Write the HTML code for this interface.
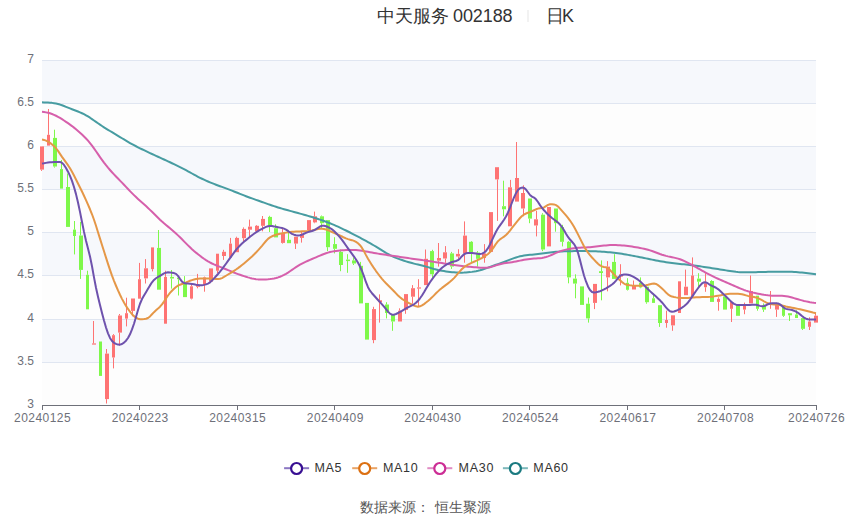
<!DOCTYPE html><html><head><meta charset="utf-8"><style>
html,body{margin:0;padding:0;background:#fff;width:850px;height:517px;overflow:hidden}
svg{display:block;font-family:"Liberation Sans",sans-serif}
</style></head><body>
<svg width="850" height="517" viewBox="0 0 850 517">
<rect width="850" height="517" fill="#fff"/>
<rect x="42" y="61" width="774" height="42" fill="#f6f8fc"/>
<rect x="42" y="104" width="774" height="42" fill="#fdfdfd"/>
<rect x="42" y="147" width="774" height="42" fill="#f6f8fc"/>
<rect x="42" y="190" width="774" height="42" fill="#fdfdfd"/>
<rect x="42" y="233" width="774" height="42" fill="#f6f8fc"/>
<rect x="42" y="276" width="774" height="43" fill="#fdfdfd"/>
<rect x="42" y="320" width="774" height="42" fill="#f6f8fc"/>
<rect x="42" y="363" width="774" height="42" fill="#fdfdfd"/>
<rect x="42" y="60" width="774" height="1" fill="#e0e6f1"/>
<rect x="42" y="103" width="774" height="1" fill="#e0e6f1"/>
<rect x="42" y="146" width="774" height="1" fill="#e0e6f1"/>
<rect x="42" y="189" width="774" height="1" fill="#e0e6f1"/>
<rect x="42" y="232" width="774" height="1" fill="#e0e6f1"/>
<rect x="42" y="275" width="774" height="1" fill="#e0e6f1"/>
<rect x="42" y="319" width="774" height="1" fill="#e0e6f1"/>
<rect x="42" y="362" width="774" height="1" fill="#e0e6f1"/>
<g fill="#6e7079" font-size="12" text-anchor="end">
<text x="34" y="62.8">7</text>
<text x="34" y="105.8">6.5</text>
<text x="34" y="148.8">6</text>
<text x="34" y="191.8">5.5</text>
<text x="34" y="234.8">5</text>
<text x="34" y="277.8">4.5</text>
<text x="34" y="321.8">4</text>
<text x="34" y="364.8">3.5</text>
<text x="34" y="407.8">3</text>
</g>
<rect x="42" y="405" width="775" height="1" fill="#6e7079"/>
<g fill="#6e7079" font-size="12" text-anchor="middle">
<rect x="42" y="405" width="1" height="5" fill="#6e7079"/>
<text x="42.6" y="421.8" letter-spacing="0.45">20240125</text>
<rect x="139" y="405" width="1" height="5" fill="#6e7079"/>
<text x="140.16" y="421.8" letter-spacing="0.45">20240223</text>
<rect x="237" y="405" width="1" height="5" fill="#6e7079"/>
<text x="237.73" y="421.8" letter-spacing="0.45">20240315</text>
<rect x="334" y="405" width="1" height="5" fill="#6e7079"/>
<text x="335.29" y="421.8" letter-spacing="0.45">20240409</text>
<rect x="432" y="405" width="1" height="5" fill="#6e7079"/>
<text x="432.85" y="421.8" letter-spacing="0.45">20240430</text>
<rect x="529" y="405" width="1" height="5" fill="#6e7079"/>
<text x="530.42" y="421.8" letter-spacing="0.45">20240524</text>
<rect x="627" y="405" width="1" height="5" fill="#6e7079"/>
<text x="627.98" y="421.8" letter-spacing="0.45">20240617</text>
<rect x="724" y="405" width="1" height="5" fill="#6e7079"/>
<text x="725.54" y="421.8" letter-spacing="0.45">20240708</text>
<rect x="816" y="405" width="1" height="5" fill="#6e7079"/>
<text x="816.6" y="421.8" letter-spacing="0.45">20240726</text>
</g>
<g>
<rect x="41" y="169.6" width="1" height="1.3" fill="#fe7373"/>
<rect x="40" y="146.4" width="4" height="23.2" fill="#fe7373"/>
<rect x="48" y="109" width="1" height="25.8" fill="#fe7373"/>
<rect x="47" y="134.8" width="3" height="10.8" fill="#fe7373"/>
<rect x="54" y="129.7" width="1" height="8.2" fill="#7ef84a"/>
<rect x="54" y="166.5" width="1" height="1.1" fill="#7ef84a"/>
<rect x="53" y="137.9" width="4" height="28.6" fill="#7ef84a"/>
<rect x="61" y="160" width="1" height="9.1" fill="#7ef84a"/>
<rect x="60" y="169.1" width="3" height="19.5" fill="#7ef84a"/>
<rect x="67" y="173.5" width="1" height="13.5" fill="#7ef84a"/>
<rect x="66" y="187" width="4" height="39.9" fill="#7ef84a"/>
<rect x="74" y="221" width="1" height="8.6" fill="#7ef84a"/>
<rect x="74" y="236" width="1" height="18.4" fill="#7ef84a"/>
<rect x="73" y="229.6" width="3" height="6.4" fill="#7ef84a"/>
<rect x="80" y="221.9" width="1" height="13.6" fill="#7ef84a"/>
<rect x="80" y="269.9" width="1" height="9" fill="#7ef84a"/>
<rect x="79" y="235.5" width="4" height="34.4" fill="#7ef84a"/>
<rect x="87" y="270.7" width="1" height="4.1" fill="#7ef84a"/>
<rect x="86" y="274.8" width="3" height="34.5" fill="#7ef84a"/>
<rect x="93" y="321" width="1" height="22.4" fill="#fe7373"/>
<rect x="92" y="343.4" width="4" height="1.2" fill="#fe7373"/>
<rect x="99" y="341.5" width="3" height="34.4" fill="#7ef84a"/>
<rect x="106" y="349" width="1" height="4.6" fill="#fe7373"/>
<rect x="106" y="399.1" width="1" height="4.4" fill="#fe7373"/>
<rect x="105" y="353.6" width="4" height="45.5" fill="#fe7373"/>
<rect x="113" y="334.1" width="1" height="1.1" fill="#fe7373"/>
<rect x="113" y="357.5" width="1" height="10.9" fill="#fe7373"/>
<rect x="112" y="335.2" width="3" height="22.3" fill="#fe7373"/>
<rect x="119" y="314" width="1" height="1.5" fill="#fe7373"/>
<rect x="119" y="332.6" width="1" height="13.1" fill="#fe7373"/>
<rect x="118" y="315.5" width="4" height="17.1" fill="#fe7373"/>
<rect x="126" y="297.7" width="1" height="15.5" fill="#fe7373"/>
<rect x="126" y="318.6" width="1" height="7.8" fill="#fe7373"/>
<rect x="125" y="313.2" width="3" height="5.4" fill="#fe7373"/>
<rect x="132" y="310.9" width="1" height="5.4" fill="#fe7373"/>
<rect x="131" y="298.5" width="4" height="12.4" fill="#fe7373"/>
<rect x="139" y="262.9" width="1" height="16.3" fill="#fe7373"/>
<rect x="138" y="279.2" width="3" height="19.5" fill="#fe7373"/>
<rect x="145" y="259.1" width="1" height="9.2" fill="#fe7373"/>
<rect x="145" y="278.4" width="1" height="5.1" fill="#fe7373"/>
<rect x="144" y="268.3" width="4" height="10.1" fill="#fe7373"/>
<rect x="152" y="269.1" width="1" height="2.3" fill="#fe7373"/>
<rect x="151" y="247.4" width="3" height="21.7" fill="#fe7373"/>
<rect x="158" y="230" width="1" height="17.9" fill="#7ef84a"/>
<rect x="157" y="247.9" width="4" height="41.8" fill="#7ef84a"/>
<rect x="165" y="270.7" width="1" height="6.2" fill="#fe7373"/>
<rect x="164" y="276.9" width="3" height="46.8" fill="#fe7373"/>
<rect x="171" y="270" width="1" height="6.9" fill="#7ef84a"/>
<rect x="171" y="278.5" width="1" height="10.1" fill="#7ef84a"/>
<rect x="170" y="276.9" width="4" height="1.6" fill="#7ef84a"/>
<rect x="178" y="276.1" width="1" height="1.6" fill="#7ef84a"/>
<rect x="178" y="279.2" width="1" height="16.3" fill="#7ef84a"/>
<rect x="177" y="277.7" width="3" height="1.5" fill="#7ef84a"/>
<rect x="184" y="276.1" width="1" height="7.8" fill="#7ef84a"/>
<rect x="183" y="283.9" width="4" height="13.2" fill="#7ef84a"/>
<rect x="191" y="283.1" width="1" height="3.2" fill="#fe7373"/>
<rect x="191" y="298.6" width="1" height="0.8" fill="#fe7373"/>
<rect x="190" y="286.3" width="3" height="12.3" fill="#fe7373"/>
<rect x="197" y="273.9" width="1" height="11.1" fill="#fe7373"/>
<rect x="197" y="286.8" width="1" height="1.5" fill="#fe7373"/>
<rect x="196" y="285" width="4" height="1.8" fill="#fe7373"/>
<rect x="204" y="276.6" width="1" height="0.8" fill="#fe7373"/>
<rect x="204" y="285" width="1" height="6.7" fill="#fe7373"/>
<rect x="203" y="277.4" width="3" height="7.6" fill="#fe7373"/>
<rect x="210" y="281.6" width="1" height="1.5" fill="#fe7373"/>
<rect x="209" y="268.4" width="4" height="13.2" fill="#fe7373"/>
<rect x="217" y="270.7" width="1" height="2.3" fill="#fe7373"/>
<rect x="216" y="253.7" width="3" height="17" fill="#fe7373"/>
<rect x="223" y="249.8" width="1" height="2" fill="#fe7373"/>
<rect x="223" y="256" width="1" height="3.9" fill="#fe7373"/>
<rect x="222" y="251.8" width="4" height="4.2" fill="#fe7373"/>
<rect x="230" y="237.9" width="1" height="5.7" fill="#fe7373"/>
<rect x="229" y="243.6" width="3" height="14" fill="#fe7373"/>
<rect x="236" y="236.7" width="1" height="1.2" fill="#fe7373"/>
<rect x="235" y="237.9" width="4" height="14.3" fill="#fe7373"/>
<rect x="243" y="227.4" width="1" height="1.5" fill="#fe7373"/>
<rect x="243" y="238.2" width="1" height="3.9" fill="#fe7373"/>
<rect x="242" y="228.9" width="4" height="9.3" fill="#fe7373"/>
<rect x="249" y="219.6" width="1" height="7" fill="#fe7373"/>
<rect x="249" y="229.7" width="1" height="7" fill="#fe7373"/>
<rect x="248" y="226.6" width="4" height="3.1" fill="#fe7373"/>
<rect x="256" y="225" width="1" height="0.8" fill="#fe7373"/>
<rect x="255" y="225.8" width="4" height="5.5" fill="#fe7373"/>
<rect x="262" y="216" width="1" height="2.9" fill="#fe7373"/>
<rect x="262" y="225.8" width="1" height="5.5" fill="#fe7373"/>
<rect x="261" y="218.9" width="4" height="6.9" fill="#fe7373"/>
<rect x="269" y="215.8" width="1" height="1.1" fill="#7ef84a"/>
<rect x="269" y="225.8" width="1" height="6.2" fill="#7ef84a"/>
<rect x="268" y="216.9" width="4" height="8.9" fill="#7ef84a"/>
<rect x="275" y="224.3" width="1" height="3.9" fill="#7ef84a"/>
<rect x="274" y="228.2" width="4" height="9.2" fill="#7ef84a"/>
<rect x="282" y="229" width="1" height="3.8" fill="#fe7373"/>
<rect x="282" y="242.9" width="1" height="0.7" fill="#fe7373"/>
<rect x="281" y="232.8" width="4" height="10.1" fill="#fe7373"/>
<rect x="288" y="230.5" width="1" height="9.3" fill="#7ef84a"/>
<rect x="287" y="239.8" width="4" height="3.4" fill="#7ef84a"/>
<rect x="295" y="243.6" width="1" height="5.4" fill="#fe7373"/>
<rect x="294" y="236.7" width="4" height="6.9" fill="#fe7373"/>
<rect x="301" y="231" width="1" height="3" fill="#fe7373"/>
<rect x="301" y="237.9" width="1" height="4.7" fill="#fe7373"/>
<rect x="300" y="234" width="4" height="3.9" fill="#fe7373"/>
<rect x="307" y="220.1" width="4" height="10.1" fill="#fe7373"/>
<rect x="314" y="211.6" width="1" height="4.7" fill="#fe7373"/>
<rect x="314" y="222.4" width="1" height="0.8" fill="#fe7373"/>
<rect x="313" y="216.3" width="4" height="6.1" fill="#fe7373"/>
<rect x="321" y="215.5" width="1" height="0.8" fill="#7ef84a"/>
<rect x="321" y="223.2" width="1" height="5.4" fill="#7ef84a"/>
<rect x="320" y="216.3" width="4" height="6.9" fill="#7ef84a"/>
<rect x="327" y="247.2" width="1" height="3.9" fill="#7ef84a"/>
<rect x="326" y="220.1" width="4" height="27.1" fill="#7ef84a"/>
<rect x="334" y="237.2" width="1" height="6.9" fill="#7ef84a"/>
<rect x="334" y="248.8" width="1" height="4.6" fill="#7ef84a"/>
<rect x="333" y="244.1" width="4" height="4.7" fill="#7ef84a"/>
<rect x="340" y="249.5" width="1" height="2.4" fill="#7ef84a"/>
<rect x="340" y="265" width="1" height="6.2" fill="#7ef84a"/>
<rect x="339" y="251.9" width="4" height="13.1" fill="#7ef84a"/>
<rect x="347" y="254.2" width="1" height="5.4" fill="#7ef84a"/>
<rect x="347" y="261.1" width="1" height="11.7" fill="#7ef84a"/>
<rect x="346" y="259.6" width="4" height="1.5" fill="#7ef84a"/>
<rect x="353" y="257.3" width="1" height="3.1" fill="#7ef84a"/>
<rect x="353" y="263.5" width="1" height="1.5" fill="#7ef84a"/>
<rect x="352" y="260.4" width="4" height="3.1" fill="#7ef84a"/>
<rect x="360" y="261.9" width="1" height="3.9" fill="#7ef84a"/>
<rect x="359" y="265.8" width="4" height="37.6" fill="#7ef84a"/>
<rect x="365" y="302.9" width="4" height="36.7" fill="#7ef84a"/>
<rect x="373" y="306.8" width="1" height="2.3" fill="#fe7373"/>
<rect x="373" y="340.1" width="1" height="3.1" fill="#fe7373"/>
<rect x="372" y="309.1" width="4" height="31" fill="#fe7373"/>
<rect x="379" y="294.4" width="1" height="5.9" fill="#fe7373"/>
<rect x="379" y="302.2" width="1" height="20.4" fill="#fe7373"/>
<rect x="378" y="300.3" width="4" height="1.9" fill="#fe7373"/>
<rect x="386" y="302.2" width="1" height="2.3" fill="#7ef84a"/>
<rect x="386" y="313" width="1" height="5.4" fill="#7ef84a"/>
<rect x="385" y="304.5" width="4" height="8.5" fill="#7ef84a"/>
<rect x="392" y="321.5" width="1" height="9.3" fill="#7ef84a"/>
<rect x="391" y="314.5" width="4" height="7" fill="#7ef84a"/>
<rect x="399" y="308.3" width="1" height="2.4" fill="#fe7373"/>
<rect x="398" y="310.7" width="4" height="10.8" fill="#fe7373"/>
<rect x="405" y="309.9" width="1" height="3.9" fill="#fe7373"/>
<rect x="404" y="294.1" width="4" height="15.8" fill="#fe7373"/>
<rect x="412" y="285.1" width="1" height="3.1" fill="#fe7373"/>
<rect x="412" y="296.7" width="1" height="7" fill="#fe7373"/>
<rect x="411" y="288.2" width="4" height="8.5" fill="#fe7373"/>
<rect x="418" y="279.2" width="1" height="8.2" fill="#fe7373"/>
<rect x="418" y="288.5" width="1" height="17.5" fill="#fe7373"/>
<rect x="417" y="287.4" width="4" height="1.2" fill="#fe7373"/>
<rect x="425" y="249.5" width="1" height="9.3" fill="#fe7373"/>
<rect x="424" y="258.8" width="4" height="26.3" fill="#fe7373"/>
<rect x="432" y="249.8" width="1" height="1.3" fill="#7ef84a"/>
<rect x="432" y="274.3" width="1" height="4.7" fill="#7ef84a"/>
<rect x="430" y="251.1" width="4" height="23.2" fill="#7ef84a"/>
<rect x="438" y="243" width="1" height="15" fill="#fe7373"/>
<rect x="438" y="260.7" width="1" height="5.9" fill="#fe7373"/>
<rect x="437" y="258" width="4" height="2.7" fill="#fe7373"/>
<rect x="445" y="246.1" width="1" height="6.2" fill="#fe7373"/>
<rect x="445" y="258.5" width="1" height="4.2" fill="#fe7373"/>
<rect x="443" y="252.3" width="4" height="6.2" fill="#fe7373"/>
<rect x="451" y="251.9" width="1" height="1.5" fill="#7ef84a"/>
<rect x="451" y="266.6" width="1" height="2.3" fill="#7ef84a"/>
<rect x="450" y="253.4" width="4" height="13.2" fill="#7ef84a"/>
<rect x="458" y="249.2" width="1" height="4.7" fill="#fe7373"/>
<rect x="458" y="256.5" width="1" height="2.3" fill="#fe7373"/>
<rect x="456" y="253.9" width="4" height="2.6" fill="#fe7373"/>
<rect x="464" y="221.4" width="1" height="14.2" fill="#fe7373"/>
<rect x="464" y="253.4" width="1" height="9.3" fill="#fe7373"/>
<rect x="463" y="235.6" width="4" height="17.8" fill="#fe7373"/>
<rect x="471" y="241" width="1" height="0.8" fill="#7ef84a"/>
<rect x="471" y="252.6" width="1" height="9.3" fill="#7ef84a"/>
<rect x="469" y="241.8" width="4" height="10.8" fill="#7ef84a"/>
<rect x="477" y="251.1" width="1" height="1.5" fill="#7ef84a"/>
<rect x="477" y="258.8" width="1" height="7.8" fill="#7ef84a"/>
<rect x="476" y="252.6" width="4" height="6.2" fill="#7ef84a"/>
<rect x="484" y="244.1" width="1" height="9.3" fill="#fe7373"/>
<rect x="484" y="258" width="1" height="4.7" fill="#fe7373"/>
<rect x="482" y="253.4" width="4" height="4.6" fill="#fe7373"/>
<rect x="489" y="212.1" width="4" height="39.8" fill="#fe7373"/>
<rect x="497" y="179.4" width="1" height="41.5" fill="#fe7373"/>
<rect x="495" y="167.2" width="4" height="12.2" fill="#fe7373"/>
<rect x="503" y="180.7" width="1" height="25.5" fill="#7ef84a"/>
<rect x="503" y="209.3" width="1" height="7" fill="#7ef84a"/>
<rect x="502" y="206.2" width="4" height="3.1" fill="#7ef84a"/>
<rect x="510" y="179.9" width="1" height="7.4" fill="#fe7373"/>
<rect x="508" y="187.3" width="4" height="39" fill="#fe7373"/>
<rect x="516" y="142" width="1" height="36" fill="#fe7373"/>
<rect x="515" y="178" width="4" height="23.6" fill="#fe7373"/>
<rect x="523" y="185.3" width="1" height="7.7" fill="#fe7373"/>
<rect x="523" y="208.5" width="1" height="7.8" fill="#fe7373"/>
<rect x="521" y="193" width="4" height="15.5" fill="#fe7373"/>
<rect x="529" y="218.6" width="1" height="4.6" fill="#7ef84a"/>
<rect x="528" y="198.5" width="4" height="20.1" fill="#7ef84a"/>
<rect x="536" y="210.8" width="1" height="8.5" fill="#fe7373"/>
<rect x="536" y="225.5" width="1" height="10.9" fill="#fe7373"/>
<rect x="534" y="219.3" width="4" height="6.2" fill="#fe7373"/>
<rect x="542" y="213.2" width="1" height="1.5" fill="#7ef84a"/>
<rect x="542" y="249.5" width="1" height="1.6" fill="#7ef84a"/>
<rect x="541" y="214.7" width="4" height="34.8" fill="#7ef84a"/>
<rect x="547" y="207" width="4" height="39.4" fill="#fe7373"/>
<rect x="555" y="223.2" width="1" height="8.5" fill="#7ef84a"/>
<rect x="554" y="208.5" width="4" height="14.7" fill="#7ef84a"/>
<rect x="562" y="224.8" width="1" height="2.3" fill="#7ef84a"/>
<rect x="562" y="241.8" width="1" height="4.6" fill="#7ef84a"/>
<rect x="560" y="227.1" width="4" height="14.7" fill="#7ef84a"/>
<rect x="568" y="241" width="1" height="0.8" fill="#7ef84a"/>
<rect x="568" y="277.4" width="1" height="5.9" fill="#7ef84a"/>
<rect x="567" y="241.8" width="4" height="35.6" fill="#7ef84a"/>
<rect x="575" y="274.3" width="1" height="4.3" fill="#7ef84a"/>
<rect x="575" y="283.6" width="1" height="14.7" fill="#7ef84a"/>
<rect x="573" y="278.6" width="4" height="5" fill="#7ef84a"/>
<rect x="580" y="286.4" width="4" height="18.5" fill="#7ef84a"/>
<rect x="588" y="297.5" width="1" height="6.2" fill="#7ef84a"/>
<rect x="588" y="318.4" width="1" height="4.2" fill="#7ef84a"/>
<rect x="586" y="303.7" width="4" height="14.7" fill="#7ef84a"/>
<rect x="594" y="302.9" width="1" height="6.2" fill="#fe7373"/>
<rect x="593" y="283.9" width="4" height="19" fill="#fe7373"/>
<rect x="601" y="260.4" width="1" height="10.8" fill="#7ef84a"/>
<rect x="601" y="273" width="1" height="27.3" fill="#7ef84a"/>
<rect x="599" y="271.2" width="4" height="1.8" fill="#7ef84a"/>
<rect x="607" y="261.1" width="1" height="5.5" fill="#fe7373"/>
<rect x="607" y="277.4" width="1" height="13.9" fill="#fe7373"/>
<rect x="606" y="266.6" width="4" height="10.8" fill="#fe7373"/>
<rect x="614" y="254.2" width="1" height="7.7" fill="#7ef84a"/>
<rect x="612" y="261.9" width="4" height="17" fill="#7ef84a"/>
<rect x="620" y="264.2" width="1" height="10.1" fill="#fe7373"/>
<rect x="620" y="276.6" width="1" height="8.8" fill="#fe7373"/>
<rect x="619" y="274.3" width="4" height="2.3" fill="#fe7373"/>
<rect x="627" y="278.2" width="1" height="4.6" fill="#7ef84a"/>
<rect x="627" y="289.8" width="1" height="0.7" fill="#7ef84a"/>
<rect x="626" y="282.8" width="3" height="7" fill="#7ef84a"/>
<rect x="633" y="280.5" width="1" height="4.6" fill="#fe7373"/>
<rect x="632" y="285.1" width="4" height="4.4" fill="#fe7373"/>
<rect x="640" y="277.4" width="1" height="5.4" fill="#7ef84a"/>
<rect x="640" y="287.4" width="1" height="0.8" fill="#7ef84a"/>
<rect x="639" y="282.8" width="3" height="4.6" fill="#7ef84a"/>
<rect x="646" y="302.2" width="1" height="1.5" fill="#7ef84a"/>
<rect x="645" y="286.7" width="4" height="15.5" fill="#7ef84a"/>
<rect x="653" y="293.6" width="1" height="4.7" fill="#7ef84a"/>
<rect x="652" y="298.3" width="3" height="4.6" fill="#7ef84a"/>
<rect x="659" y="323" width="1" height="3.9" fill="#7ef84a"/>
<rect x="658" y="305.2" width="4" height="17.8" fill="#7ef84a"/>
<rect x="666" y="310.7" width="1" height="9.3" fill="#fe7373"/>
<rect x="666" y="323" width="1" height="4.7" fill="#fe7373"/>
<rect x="665" y="320" width="3" height="3" fill="#fe7373"/>
<rect x="672" y="325.4" width="1" height="5.4" fill="#fe7373"/>
<rect x="671" y="315.3" width="4" height="10.1" fill="#fe7373"/>
<rect x="678" y="281.3" width="3" height="31.7" fill="#fe7373"/>
<rect x="685" y="269.6" width="1" height="17.1" fill="#fe7373"/>
<rect x="684" y="286.7" width="4" height="8.5" fill="#fe7373"/>
<rect x="692" y="257.4" width="1" height="18.1" fill="#fe7373"/>
<rect x="691" y="275.5" width="3" height="20.9" fill="#fe7373"/>
<rect x="698" y="273.2" width="1" height="5.4" fill="#7ef84a"/>
<rect x="698" y="281.7" width="1" height="5.5" fill="#7ef84a"/>
<rect x="697" y="278.6" width="4" height="3.1" fill="#7ef84a"/>
<rect x="705" y="273.2" width="1" height="10.1" fill="#fe7373"/>
<rect x="705" y="287.2" width="1" height="4.6" fill="#fe7373"/>
<rect x="704" y="283.3" width="3" height="3.9" fill="#fe7373"/>
<rect x="711" y="280.2" width="1" height="0.8" fill="#7ef84a"/>
<rect x="710" y="281" width="4" height="20.9" fill="#7ef84a"/>
<rect x="718" y="297.2" width="1" height="1.6" fill="#fe7373"/>
<rect x="718" y="301.9" width="1" height="8.8" fill="#fe7373"/>
<rect x="717" y="298.8" width="3" height="3.1" fill="#fe7373"/>
<rect x="723" y="296.4" width="4" height="13.2" fill="#7ef84a"/>
<rect x="731" y="308.8" width="1" height="13.2" fill="#fe7373"/>
<rect x="730" y="301.9" width="3" height="6.9" fill="#fe7373"/>
<rect x="736" y="304.2" width="4" height="11.6" fill="#7ef84a"/>
<rect x="744" y="302.6" width="1" height="3.1" fill="#fe7373"/>
<rect x="744" y="309.6" width="1" height="4.6" fill="#fe7373"/>
<rect x="743" y="305.7" width="3" height="3.9" fill="#fe7373"/>
<rect x="750" y="275.5" width="1" height="15.5" fill="#fe7373"/>
<rect x="749" y="291" width="4" height="12.4" fill="#fe7373"/>
<rect x="757" y="308.8" width="1" height="1.9" fill="#7ef84a"/>
<rect x="756" y="295.7" width="3" height="13.1" fill="#7ef84a"/>
<rect x="763" y="303.4" width="1" height="2.3" fill="#7ef84a"/>
<rect x="763" y="309.6" width="1" height="2.3" fill="#7ef84a"/>
<rect x="762" y="305.7" width="4" height="3.9" fill="#7ef84a"/>
<rect x="770" y="291" width="1" height="12.4" fill="#fe7373"/>
<rect x="770" y="305" width="1" height="3.8" fill="#fe7373"/>
<rect x="769" y="303.4" width="3" height="1.6" fill="#fe7373"/>
<rect x="776" y="302.6" width="1" height="1.6" fill="#fe7373"/>
<rect x="776" y="309.6" width="1" height="7.3" fill="#fe7373"/>
<rect x="775" y="304.2" width="4" height="5.4" fill="#fe7373"/>
<rect x="783" y="315.8" width="1" height="1.1" fill="#7ef84a"/>
<rect x="782" y="305" width="3" height="10.8" fill="#7ef84a"/>
<rect x="789" y="315.3" width="1" height="5.7" fill="#7ef84a"/>
<rect x="788" y="313.2" width="4" height="2.1" fill="#7ef84a"/>
<rect x="796" y="310.2" width="1" height="4.3" fill="#7ef84a"/>
<rect x="795" y="314.5" width="3" height="3.5" fill="#7ef84a"/>
<rect x="802" y="328.8" width="1" height="1.2" fill="#7ef84a"/>
<rect x="801" y="318.1" width="4" height="10.7" fill="#7ef84a"/>
<rect x="809" y="317.3" width="1" height="4.2" fill="#fe7373"/>
<rect x="809" y="326.8" width="1" height="3.2" fill="#fe7373"/>
<rect x="808" y="321.5" width="3" height="5.3" fill="#fe7373"/>
<rect x="815" y="312.8" width="1" height="2.9" fill="#fe7373"/>
<rect x="814" y="315.7" width="4" height="6.9" fill="#fe7373"/>
</g>
<path d="M42 102.34 L44 102.39 L46 102.46 L48 102.55 L50 102.68 L52 102.87 L54 103.15 L56 103.52 L58 104 L60 104.58 L62 105.26 L64 106.01 L66 106.81 L68 107.61 L70 108.41 L72 109.2 L74 109.98 L76 110.75 L78 111.54 L80 112.36 L82 113.25 L84 114.22 L86 115.29 L88 116.46 L90 117.72 L92 119.07 L94 120.47 L96 121.89 L98 123.3 L100 124.69 L102 126.02 L104 127.32 L106 128.57 L108 129.79 L110 130.99 L112 132.19 L114 133.39 L116 134.59 L118 135.81 L120 137.03 L122 138.25 L124 139.47 L126 140.68 L128 141.86 L130 143.01 L132 144.12 L134 145.2 L136 146.25 L138 147.27 L140 148.27 L142 149.25 L144 150.21 L146 151.17 L148 152.12 L150 153.06 L152 153.99 L154 154.91 L156 155.83 L158 156.75 L160 157.66 L162 158.57 L164 159.49 L166 160.42 L168 161.34 L170 162.28 L172 163.22 L174 164.17 L176 165.13 L178 166.09 L180 167.08 L182 168.08 L184 169.12 L186 170.18 L188 171.27 L190 172.38 L192 173.5 L194 174.62 L196 175.71 L198 176.77 L200 177.79 L202 178.77 L204 179.71 L206 180.61 L208 181.48 L210 182.32 L212 183.13 L214 183.93 L216 184.7 L218 185.46 L220 186.2 L222 186.93 L224 187.66 L226 188.4 L228 189.14 L230 189.9 L232 190.67 L234 191.45 L236 192.25 L238 193.05 L240 193.85 L242 194.65 L244 195.44 L246 196.21 L248 196.96 L250 197.7 L252 198.42 L254 199.13 L256 199.84 L258 200.54 L260 201.24 L262 201.95 L264 202.66 L266 203.37 L268 204.08 L270 204.78 L272 205.47 L274 206.15 L276 206.8 L278 207.43 L280 208.04 L282 208.63 L284 209.2 L286 209.76 L288 210.31 L290 210.85 L292 211.39 L294 211.93 L296 212.48 L298 213.03 L300 213.59 L302 214.15 L304 214.71 L306 215.29 L308 215.87 L310 216.46 L312 217.06 L314 217.68 L316 218.31 L318 218.96 L320 219.62 L322 220.31 L324 221.01 L326 221.74 L328 222.49 L330 223.27 L332 224.09 L334 224.93 L336 225.81 L338 226.71 L340 227.63 L342 228.57 L344 229.53 L346 230.51 L348 231.5 L350 232.5 L352 233.52 L354 234.55 L356 235.59 L358 236.64 L360 237.7 L362 238.78 L364 239.86 L366 240.96 L368 242.07 L370 243.19 L372 244.33 L374 245.5 L376 246.7 L378 247.93 L380 249.17 L382 250.42 L384 251.66 L386 252.86 L388 254 L390 255.08 L392 256.07 L394 256.99 L396 257.84 L398 258.63 L400 259.36 L402 260.06 L404 260.72 L406 261.35 L408 261.95 L410 262.53 L412 263.07 L414 263.6 L416 264.1 L418 264.59 L420 265.07 L422 265.56 L424 266.06 L426 266.6 L428 267.16 L430 267.74 L432 268.34 L434 268.93 L436 269.47 L438 269.97 L440 270.41 L442 270.78 L444 271.11 L446 271.4 L448 271.66 L450 271.91 L452 272.14 L454 272.34 L456 272.5 L458 272.61 L460 272.66 L462 272.65 L464 272.59 L466 272.47 L468 272.31 L470 272.12 L472 271.88 L474 271.58 L476 271.22 L478 270.79 L480 270.28 L482 269.7 L484 269.06 L486 268.37 L488 267.67 L490 266.95 L492 266.23 L494 265.52 L496 264.81 L498 264.11 L500 263.39 L502 262.67 L504 261.94 L506 261.2 L508 260.44 L510 259.67 L512 258.91 L514 258.17 L516 257.48 L518 256.87 L520 256.34 L522 255.9 L524 255.55 L526 255.27 L528 255.05 L530 254.86 L532 254.67 L534 254.49 L536 254.29 L538 254.07 L540 253.83 L542 253.57 L544 253.29 L546 253.01 L548 252.72 L550 252.45 L552 252.2 L554 251.98 L556 251.79 L558 251.63 L560 251.5 L562 251.4 L564 251.32 L566 251.26 L568 251.21 L570 251.17 L572 251.14 L574 251.12 L576 251.11 L578 251.1 L580 251.1 L582 251.1 L584 251.1 L586 251.1 L588 251.11 L590 251.13 L592 251.17 L594 251.22 L596 251.29 L598 251.39 L600 251.5 L602 251.64 L604 251.79 L606 251.95 L608 252.13 L610 252.31 L612 252.52 L614 252.74 L616 252.98 L618 253.25 L620 253.54 L622 253.86 L624 254.19 L626 254.53 L628 254.89 L630 255.25 L632 255.62 L634 256 L636 256.39 L638 256.78 L640 257.18 L642 257.58 L644 257.99 L646 258.39 L648 258.8 L650 259.21 L652 259.61 L654 260.01 L656 260.4 L658 260.78 L660 261.15 L662 261.5 L664 261.84 L666 262.17 L668 262.48 L670 262.78 L672 263.06 L674 263.31 L676 263.55 L678 263.76 L680 263.96 L682 264.15 L684 264.34 L686 264.53 L688 264.74 L690 264.96 L692 265.21 L694 265.47 L696 265.74 L698 266.03 L700 266.32 L702 266.62 L704 266.93 L706 267.24 L708 267.55 L710 267.86 L712 268.17 L714 268.48 L716 268.79 L718 269.1 L720 269.41 L722 269.73 L724 270.05 L726 270.38 L728 270.7 L730 271.02 L732 271.32 L734 271.6 L736 271.84 L738 272.03 L740 272.17 L742 272.27 L744 272.33 L746 272.34 L748 272.33 L750 272.3 L752 272.26 L754 272.21 L756 272.17 L758 272.11 L760 272.05 L762 272 L764 271.94 L766 271.88 L768 271.83 L770 271.78 L772 271.75 L774 271.72 L776 271.71 L778 271.7 L780 271.7 L782 271.7 L784 271.7 L786 271.71 L788 271.73 L790 271.77 L792 271.83 L794 271.93 L796 272.05 L798 272.21 L800 272.39 L802 272.59 L804 272.81 L806 273.04 L808 273.3 L810 273.58 L812 273.83 L814 274.05 L816 274.23" fill="none" stroke="#479ca1" stroke-width="2" stroke-linejoin="round" stroke-linecap="butt"/>
<path d="M42 111.83 L44 112.05 L46 112.37 L48 112.79 L50 113.32 L52 114 L54 114.82 L56 115.76 L58 116.81 L60 117.94 L62 119.17 L64 120.47 L66 121.82 L68 123.19 L70 124.6 L72 126.07 L74 127.62 L76 129.24 L78 130.93 L80 132.69 L82 134.52 L84 136.44 L86 138.48 L88 140.68 L90 143.07 L92 145.66 L94 148.4 L96 151.25 L98 154.15 L100 157.06 L102 159.89 L104 162.61 L106 165.19 L108 167.64 L110 169.98 L112 172.22 L114 174.37 L116 176.47 L118 178.53 L120 180.59 L122 182.66 L124 184.75 L126 186.87 L128 188.98 L130 191.07 L132 193.12 L134 195.11 L136 197.04 L138 198.91 L140 200.73 L142 202.52 L144 204.29 L146 206.1 L148 207.95 L150 209.85 L152 211.81 L154 213.81 L156 215.81 L158 217.79 L160 219.72 L162 221.56 L164 223.31 L166 224.98 L168 226.62 L170 228.27 L172 229.95 L174 231.7 L176 233.51 L178 235.38 L180 237.32 L182 239.32 L184 241.35 L186 243.38 L188 245.36 L190 247.29 L192 249.16 L194 250.94 L196 252.64 L198 254.26 L200 255.83 L202 257.34 L204 258.77 L206 260.12 L208 261.36 L210 262.49 L212 263.51 L214 264.44 L216 265.28 L218 266.08 L220 266.87 L222 267.66 L224 268.46 L226 269.27 L228 270.09 L230 270.91 L232 271.73 L234 272.54 L236 273.32 L238 274.08 L240 274.8 L242 275.49 L244 276.14 L246 276.76 L248 277.36 L250 277.91 L252 278.41 L254 278.82 L256 279.15 L258 279.38 L260 279.51 L262 279.54 L264 279.5 L266 279.4 L268 279.24 L270 279.03 L272 278.75 L274 278.41 L276 277.98 L278 277.42 L280 276.71 L282 275.86 L284 274.88 L286 273.78 L288 272.55 L290 271.21 L292 269.83 L294 268.46 L296 267.15 L298 265.89 L300 264.69 L302 263.59 L304 262.58 L306 261.64 L308 260.75 L310 259.88 L312 259.02 L314 258.17 L316 257.3 L318 256.44 L320 255.58 L322 254.75 L324 253.97 L326 253.26 L328 252.63 L330 252.09 L332 251.62 L334 251.24 L336 250.93 L338 250.67 L340 250.45 L342 250.28 L344 250.14 L346 250.03 L348 249.96 L350 249.92 L352 249.93 L354 249.99 L356 250.12 L358 250.3 L360 250.53 L362 250.81 L364 251.13 L366 251.47 L368 251.83 L370 252.2 L372 252.56 L374 252.93 L376 253.28 L378 253.62 L380 253.94 L382 254.25 L384 254.55 L386 254.85 L388 255.14 L390 255.43 L392 255.72 L394 256.02 L396 256.31 L398 256.61 L400 256.91 L402 257.2 L404 257.5 L406 257.79 L408 258.08 L410 258.37 L412 258.66 L414 258.94 L416 259.23 L418 259.51 L420 259.8 L422 260.09 L424 260.37 L426 260.67 L428 260.96 L430 261.26 L432 261.56 L434 261.87 L436 262.18 L438 262.49 L440 262.8 L442 263.11 L444 263.43 L446 263.74 L448 264.05 L450 264.36 L452 264.66 L454 264.96 L456 265.24 L458 265.51 L460 265.76 L462 266 L464 266.23 L466 266.44 L468 266.64 L470 266.82 L472 267.01 L474 267.18 L476 267.35 L478 267.51 L480 267.66 L482 267.79 L484 267.85 L486 267.78 L488 267.55 L490 267.16 L492 266.65 L494 266.06 L496 265.41 L498 264.77 L500 264.2 L502 263.73 L504 263.35 L506 263.05 L508 262.76 L510 262.46 L512 262.15 L514 261.81 L516 261.44 L518 261.04 L520 260.62 L522 260.2 L524 259.8 L526 259.45 L528 259.15 L530 258.91 L532 258.72 L534 258.57 L536 258.45 L538 258.33 L540 258.17 L542 257.92 L544 257.54 L546 257.02 L548 256.37 L550 255.59 L552 254.71 L554 253.81 L556 252.94 L558 252.12 L560 251.37 L562 250.71 L564 250.13 L566 249.63 L568 249.18 L570 248.78 L572 248.46 L574 248.19 L576 247.98 L578 247.82 L580 247.69 L582 247.59 L584 247.49 L586 247.39 L588 247.27 L590 247.13 L592 246.96 L594 246.77 L596 246.56 L598 246.32 L600 246.08 L602 245.83 L604 245.6 L606 245.4 L608 245.23 L610 245.11 L612 245.04 L614 245.03 L616 245.06 L618 245.15 L620 245.27 L622 245.43 L624 245.62 L626 245.83 L628 246.06 L630 246.32 L632 246.6 L634 246.91 L636 247.24 L638 247.6 L640 247.99 L642 248.39 L644 248.82 L646 249.29 L648 249.81 L650 250.39 L652 251.04 L654 251.75 L656 252.49 L658 253.26 L660 254 L662 254.69 L664 255.32 L666 255.87 L668 256.36 L670 256.8 L672 257.22 L674 257.64 L676 258.11 L678 258.66 L680 259.29 L682 260.03 L684 260.86 L686 261.8 L688 262.81 L690 263.87 L692 264.96 L694 266.07 L696 267.19 L698 268.31 L700 269.43 L702 270.55 L704 271.67 L706 272.77 L708 273.85 L710 274.9 L712 275.91 L714 276.89 L716 277.84 L718 278.76 L720 279.66 L722 280.54 L724 281.41 L726 282.28 L728 283.15 L730 284.02 L732 284.9 L734 285.78 L736 286.66 L738 287.53 L740 288.37 L742 289.18 L744 289.94 L746 290.64 L748 291.28 L750 291.86 L752 292.38 L754 292.85 L756 293.27 L758 293.66 L760 294.04 L762 294.42 L764 294.79 L766 295.1 L768 295.35 L770 295.55 L772 295.69 L774 295.77 L776 295.77 L778 295.73 L780 295.72 L782 295.78 L784 295.94 L786 296.2 L788 296.55 L790 296.99 L792 297.52 L794 298.11 L796 298.71 L798 299.3 L800 299.86 L802 300.39 L804 300.91 L806 301.38 L808 301.82 L810 302.22 L812 302.55 L814 302.82 L816 303.02" fill="none" stroke="#d65fab" stroke-width="2" stroke-linejoin="round" stroke-linecap="butt"/>
<path d="M42 139.59 L44 139.92 L46 140.6 L48 141.63 L50 142.92 L52 144.41 L54 146.1 L56 148.23 L58 150.88 L60 153.9 L62 156.9 L64 159.7 L66 162.39 L68 165.18 L70 168.27 L72 171.74 L74 175.54 L76 179.48 L78 183.45 L80 187.44 L82 191.51 L84 195.72 L86 200.06 L88 204.56 L90 209.26 L92 214.28 L94 219.78 L96 225.81 L98 232.19 L100 238.64 L102 245 L104 251.3 L106 257.59 L108 263.84 L110 269.91 L112 275.59 L114 280.85 L116 285.75 L118 290.41 L120 294.79 L122 298.86 L124 302.55 L126 305.89 L128 308.94 L130 311.73 L132 314.17 L134 316.16 L136 317.71 L138 318.73 L140 319.24 L142 319.28 L144 319.1 L146 318.79 L148 317.97 L150 316.42 L152 314.3 L154 312.18 L156 310.33 L158 308.61 L160 306.72 L162 304.4 L164 301.57 L166 298.44 L168 295.5 L170 292.93 L172 290.71 L174 288.72 L176 287.03 L178 285.7 L180 284.72 L182 283.96 L184 283.24 L186 282.45 L188 281.6 L190 280.79 L192 280.1 L194 279.53 L196 279.06 L198 278.72 L200 278.55 L202 278.5 L204 278.5 L206 278.5 L208 278.5 L210 278.56 L212 278.68 L214 278.86 L216 279.05 L218 279.09 L220 278.79 L222 278.07 L224 276.97 L226 275.74 L228 274.51 L230 273.31 L232 272.09 L234 270.81 L236 269.48 L238 268.08 L240 266.6 L242 265.04 L244 263.41 L246 261.73 L248 260.03 L250 258.28 L252 256.47 L254 254.55 L256 252.5 L258 250.35 L260 248.13 L262 245.82 L264 243.4 L266 240.99 L268 238.9 L270 237.34 L272 236.27 L274 235.47 L276 234.82 L278 234.27 L280 233.79 L282 233.37 L284 233 L286 232.64 L288 232.31 L290 232.01 L292 231.79 L294 231.66 L296 231.59 L298 231.53 L300 231.46 L302 231.37 L304 231.27 L306 231.15 L308 230.99 L310 230.75 L312 230.39 L314 229.96 L316 229.5 L318 229.09 L320 228.8 L322 228.71 L324 228.91 L326 229.43 L328 230.21 L330 231.1 L332 232 L334 232.87 L336 233.72 L338 234.6 L340 235.53 L342 236.52 L344 237.53 L346 238.43 L348 239.13 L350 239.66 L352 240.17 L354 240.86 L356 241.88 L358 243.29 L360 245.18 L362 247.91 L364 251.36 L366 255.13 L368 258.7 L370 262 L372 265.17 L374 268.19 L376 271.05 L378 273.76 L380 276.35 L382 278.79 L384 281.09 L386 283.24 L388 285.27 L390 287.24 L392 289.24 L394 291.3 L396 293.41 L398 295.45 L400 297.28 L402 298.86 L404 300.22 L406 301.43 L408 302.52 L410 303.57 L412 304.6 L414 305.58 L416 306.34 L418 306.66 L420 306.36 L422 305.45 L424 304.09 L426 302.56 L428 300.95 L430 299.23 L432 297.34 L434 295.34 L436 293.32 L438 291.37 L440 289.56 L442 287.91 L444 286.38 L446 284.9 L448 283.4 L450 281.83 L452 280.08 L454 278.09 L456 275.85 L458 273.46 L460 271.11 L462 268.98 L464 267.19 L466 265.77 L468 264.63 L470 263.62 L472 262.69 L474 261.76 L476 260.82 L478 259.89 L480 258.97 L482 257.99 L484 256.86 L486 255.54 L488 253.97 L490 252.13 L492 249.81 L494 246.86 L496 243.79 L498 241.18 L500 239.38 L502 237.98 L504 236.61 L506 235 L508 232.98 L510 230.59 L512 227.98 L514 225.38 L516 222.83 L518 220.34 L520 217.98 L522 215.99 L524 214.52 L526 213.51 L528 212.74 L530 212.01 L532 211.18 L534 210.24 L536 209.29 L538 208.58 L540 208.21 L542 208.07 L544 207.44 L546 206.17 L548 204.88 L550 204.21 L552 204.24 L554 204.42 L556 205.11 L558 206.56 L560 208.65 L562 210.92 L564 213.1 L566 215.36 L568 217.83 L570 220.56 L572 223.56 L574 226.84 L576 230.46 L578 234.35 L580 238.39 L582 242.4 L584 246.22 L586 249.64 L588 252.6 L590 255.16 L592 257.5 L594 259.67 L596 261.79 L598 263.79 L600 265.42 L602 266.43 L604 266.93 L606 267.35 L608 268.34 L610 270.04 L612 272.19 L614 274.38 L616 276.45 L618 278.43 L620 280.33 L622 282.09 L624 283.57 L626 284.55 L628 285.09 L630 285.36 L632 285.56 L634 285.66 L636 285.7 L638 285.7 L640 285.7 L642 285.7 L644 285.58 L646 285.26 L648 284.77 L650 284.21 L652 283.73 L654 283.56 L656 283.98 L658 285.11 L660 286.7 L662 288.47 L664 290.4 L666 292.44 L668 294.38 L670 295.76 L672 296.58 L674 297.02 L676 297.37 L678 297.64 L680 297.86 L682 298 L684 298.06 L686 298.04 L688 297.93 L690 297.76 L692 297.56 L694 297.4 L696 297.28 L698 297.21 L700 297.16 L702 297.12 L704 297.07 L706 297.02 L708 296.94 L710 296.82 L712 296.64 L714 296.38 L716 296.08 L718 295.77 L720 295.43 L722 295.06 L724 294.66 L726 294.27 L728 293.99 L730 293.84 L732 293.8 L734 293.8 L736 293.8 L738 293.82 L740 293.95 L742 294.26 L744 294.75 L746 295.34 L748 295.9 L750 296.34 L752 296.67 L754 296.97 L756 297.41 L758 298.1 L760 299.06 L762 300.18 L764 301.31 L766 302.38 L768 303.3 L770 303.94 L772 304.31 L774 304.48 L776 304.62 L778 304.79 L780 305.08 L782 305.5 L784 306 L786 306.49 L788 306.92 L790 307.33 L792 307.71 L794 308.1 L796 308.48 L798 308.89 L800 309.31 L802 309.76 L804 310.23 L806 310.72 L808 311.23 L810 311.75 L812 312.29 L814 312.84 L816 313.21" fill="none" stroke="#e59747" stroke-width="2" stroke-linejoin="round" stroke-linecap="butt"/>
<path d="M42 163.62 L44 163.31 L46 162.88 L48 162.55 L50 162.31 L52 162.14 L54 162.02 L56 161.95 L58 161.92 L60 161.96 L62 162.86 L64 164.93 L66 168.05 L68 171.68 L70 175.84 L72 180.91 L74 186.96 L76 194.12 L78 202.49 L80 211.89 L82 222 L84 231.88 L86 240.69 L88 248.41 L90 256.53 L92 266.31 L94 277.32 L96 287.74 L98 296.73 L100 304.91 L102 312.92 L104 320.59 L106 327.48 L108 333.37 L110 337.95 L112 340.97 L114 342.77 L116 343.92 L118 344.62 L120 344.67 L122 343.99 L124 342.6 L126 340.67 L128 337.99 L130 334.28 L132 329.44 L134 323.73 L136 316.96 L138 309.98 L140 303.75 L142 299.09 L144 295.51 L146 292.22 L148 288.84 L150 285.4 L152 282.3 L154 279.91 L156 278.24 L158 276.97 L160 275.78 L162 274.57 L164 273.44 L166 272.65 L168 272.32 L170 272.38 L172 272.65 L174 273.07 L176 273.9 L178 275.89 L180 278.86 L182 281.58 L184 283.07 L186 283.44 L188 283.58 L190 283.72 L192 283.94 L194 284.28 L196 284.72 L198 285.11 L200 285.29 L202 285.2 L204 284.87 L206 284.38 L208 283.58 L210 282.31 L212 280.52 L214 278.43 L216 276.24 L218 273.99 L220 271.61 L222 269.11 L224 266.48 L226 263.73 L228 260.89 L230 258.07 L232 255.3 L234 252.58 L236 249.97 L238 247.58 L240 245.46 L242 243.57 L244 241.83 L246 240.13 L248 238.44 L250 236.78 L252 235.19 L254 233.71 L256 232.35 L258 231.08 L260 229.93 L262 228.84 L264 227.81 L266 226.86 L268 226.2 L270 225.94 L272 226.05 L274 226.39 L276 226.79 L278 227.21 L280 227.61 L282 228.05 L284 228.63 L286 229.57 L288 230.94 L290 232.52 L292 233.82 L294 234.69 L296 235.19 L298 235.43 L300 235.28 L302 234.69 L304 233.78 L306 232.88 L308 232.14 L310 231.56 L312 230.99 L314 230.26 L316 229.16 L318 227.79 L320 226.51 L322 225.81 L324 225.8 L326 226.3 L328 227.04 L330 228.03 L332 229.36 L334 231.08 L336 233.05 L338 235.12 L340 237.34 L342 239.82 L344 242.58 L346 245.47 L348 248.35 L350 251.13 L352 253.83 L354 256.56 L356 259.49 L358 262.78 L360 266.52 L362 270.99 L364 276.45 L366 282.21 L368 287.18 L370 290.71 L372 293.25 L374 295.53 L376 297.76 L378 299.99 L380 302.16 L382 304.31 L384 306.59 L386 309.09 L388 311.61 L390 313.62 L392 314.64 L394 314.66 L396 313.97 L398 313.03 L400 311.97 L402 310.85 L404 309.65 L406 308.45 L408 307.35 L410 306.37 L412 305.42 L414 304.29 L416 302.77 L418 300.75 L420 298.27 L422 295.47 L424 292.28 L426 288.82 L428 285.38 L430 282.24 L432 279.42 L434 276.75 L436 274.21 L438 271.86 L440 269.72 L442 267.84 L444 266.24 L446 264.89 L448 263.75 L450 262.8 L452 262.05 L454 261.5 L456 261.02 L458 260.19 L460 258.47 L462 256.16 L464 254.26 L466 253.31 L468 253.08 L470 252.97 L472 252.97 L474 253.15 L476 253.51 L478 253.89 L480 254 L482 253.61 L484 252.66 L486 250.95 L488 248.18 L490 244.5 L492 240.19 L494 235.84 L496 231.73 L498 228.21 L500 225.31 L502 222.66 L504 219.8 L506 216.44 L508 212.46 L510 207.67 L512 202.49 L514 197.48 L516 193.19 L518 190.04 L520 188.23 L522 187.61 L524 187.87 L526 189.57 L528 192.26 L530 195.03 L532 196.61 L534 197.6 L536 199.33 L538 202.02 L540 205.15 L542 207.96 L544 210.27 L546 212.42 L548 214.43 L550 216.28 L552 217.93 L554 219.43 L556 220.94 L558 222.58 L560 224.52 L562 227.09 L564 230.32 L566 233.78 L568 236.93 L570 239.52 L572 241.73 L574 244.09 L576 247.41 L578 252.82 L580 260.13 L582 268.1 L584 275.46 L586 281.49 L588 286.46 L590 290.02 L592 291.95 L594 292.52 L596 292.25 L598 291.82 L600 291.22 L602 290.43 L604 289.42 L606 288.29 L608 287.08 L610 285.82 L612 284.45 L614 282.85 L616 280.6 L618 278.06 L620 275.98 L622 274.9 L624 274.59 L626 274.51 L628 274.73 L630 275.28 L632 276.13 L634 277.17 L636 278.33 L638 279.67 L640 281.26 L642 283.13 L644 285.14 L646 287.18 L648 289.2 L650 291.15 L652 293.04 L654 294.85 L656 296.62 L658 298.41 L660 300.31 L662 302.48 L664 304.92 L666 307.45 L668 309.67 L670 311.19 L672 311.79 L674 311.55 L676 310.8 L678 309.85 L680 308.79 L682 307.62 L684 306.25 L686 304.58 L688 302.45 L690 299.8 L692 296.82 L694 293.88 L696 291.04 L698 288.28 L700 285.62 L702 283.45 L704 282.27 L706 282.38 L708 283.47 L710 284.81 L712 285.89 L714 286.74 L716 287.74 L718 289.1 L720 290.82 L722 292.74 L724 294.65 L726 296.56 L728 298.52 L730 300.53 L732 302.38 L734 303.84 L736 304.7 L738 305.05 L740 305.1 L742 305.1 L744 305.1 L746 305.1 L748 305.1 L750 305 L752 304.8 L754 304.68 L756 304.84 L758 305.32 L760 305.87 L762 306.24 L764 306.05 L766 305.25 L768 304.22 L770 303.53 L772 303.3 L774 303.3 L776 303.3 L778 303.39 L780 304.36 L782 306.04 L784 307.82 L786 308.86 L788 309.28 L790 309.63 L792 310.05 L794 310.69 L796 311.58 L798 312.83 L800 314.37 L802 316.03 L804 317.59 L806 318.67 L808 319.27 L810 319.46 L812 319.53 L814 319.58 L816 319.6" fill="none" stroke="#6e52ad" stroke-width="2" stroke-linejoin="round" stroke-linecap="butt"/>
<text x="377" y="22" font-size="18" fill="#333">中天服务</text>
<text x="453" y="22" font-size="18" fill="#333" letter-spacing="-0.1">002188</text>
<rect x="527.5" y="10" width="1" height="12" fill="#e6e6e6"/>
<text x="546" y="22" font-size="18" fill="#333">日</text>
<text x="562" y="22" font-size="18" fill="#333">K</text>
<rect x="284.1" y="467.2" width="25" height="2" fill="#8a76c2"/>
<circle cx="296.6" cy="468.5" r="5.5" fill="#fff" stroke="#380f92" stroke-width="2.2"/>
<text x="314.4" y="471.8" font-size="12.5" letter-spacing="0.7" fill="#333">MA5</text>
<rect x="352.2" y="467.2" width="25" height="2" fill="#e9a466"/>
<circle cx="364.7" cy="468.5" r="5.5" fill="#fff" stroke="#dc7012" stroke-width="2.2"/>
<text x="382.9" y="471.8" font-size="12.5" letter-spacing="0.7" fill="#333">MA10</text>
<rect x="427.3" y="467.2" width="25" height="2" fill="#e08cc4"/>
<circle cx="439.8" cy="468.5" r="5.5" fill="#fff" stroke="#cc2d95" stroke-width="2.2"/>
<text x="458.6" y="471.8" font-size="12.5" letter-spacing="0.7" fill="#333">MA30</text>
<rect x="502.9" y="467.2" width="25" height="2" fill="#7db8bb"/>
<circle cx="515.4" cy="468.5" r="5.5" fill="#fff" stroke="#1b7a80" stroke-width="2.2"/>
<text x="533.3" y="471.8" font-size="12.5" letter-spacing="0.7" fill="#333">MA60</text>
<text x="360" y="512" font-size="14" fill="#555">数据来源：</text>
<text x="434.5" y="512" font-size="14" fill="#555">恒生聚源</text>
</svg></body></html>
